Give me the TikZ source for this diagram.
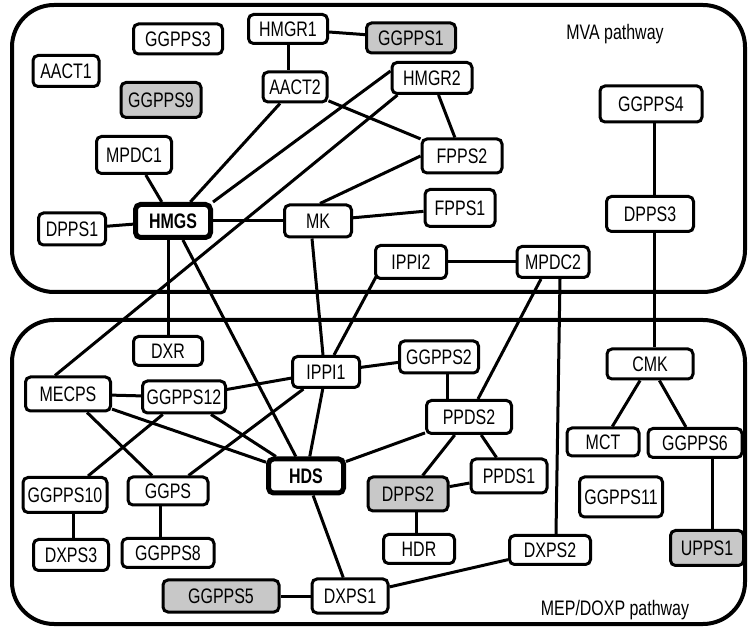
\documentclass[tikz,border=0pt]{standalone}
\usepackage{fontspec}
\setmainfont{Liberation Sans}[FakeStretch=0.76]
\definecolor{boxgray}{RGB}{200,200,200}
\begin{document}
\begin{tikzpicture}[x=1pt,y=-1pt,
  box/.style={draw, line width=3pt, rounded corners=5pt, fill=white, inner sep=0pt,
    font=\fontsize{21}{24}\selectfont},
  grayb/.style={box, fill=boxgray},
  bold/.style={box, line width=5pt, font=\fontsize{21}{24}\selectfont\bfseries},
  edge/.style={line width=3pt},
  pathbox/.style={line width=4pt, rounded corners=42pt},
  lbl/.style={font=\fontsize{21}{24}\selectfont, inner sep=0pt}]
\useasboundingbox (0,0) rectangle (748,628);
\draw[pathbox] (12,5) rectangle (745,292);
\draw[pathbox] (12,320) rectangle (745,624);
\node[lbl] (mva) at (615,34) {MVA pathway};
\node[lbl] (mep) at (615,610) {MEP/DOXP pathway};
% nodes
\node[box, minimum width=89, minimum height=30] (GGPPS3) at (178,39) {GGPPS3};
\node[box, minimum width=66, minimum height=31] (AACT1) at (66,71) {AACT1};
\node[box, minimum width=79, minimum height=29] (HMGR1) at (288,29) {HMGR1};
\node[grayb, minimum width=89, minimum height=30] (GGPPS1) at (411,38) {GGPPS1};
\node[box, minimum width=64, minimum height=30] (AACT2) at (295,87) {AACT2};
\node[box, minimum width=80, minimum height=31] (HMGR2) at (432,78) {HMGR2};
\node[grayb, minimum width=80, minimum height=35] (GGPPS9) at (161,100) {GGPPS9};
\node[box, minimum width=75, minimum height=37] (MPDC1) at (134,155) {MPDC1};
\node[box, minimum width=80, minimum height=34] (FPPS2) at (462,156) {FPPS2};
\node[box, minimum width=102, minimum height=36] (GGPPS4) at (651,104) {GGPPS4};
\node[box, minimum width=67, minimum height=32] (DPPS1) at (72,229) {DPPS1};
\node[bold, minimum width=75, minimum height=33] (HMGS) at (173,221) {HMGS};
\node[box, minimum width=67, minimum height=32] (MK) at (318,221) {MK};
\node[box, minimum width=70, minimum height=37] (FPPS1) at (460,208) {FPPS1};
\node[box, minimum width=87, minimum height=35] (DPPS3) at (650,214) {DPPS3};
\node[box, minimum width=71, minimum height=33] (IPPI2) at (411,262) {IPPI2};
\node[box, minimum width=72, minimum height=31] (MPDC2) at (553,262) {MPDC2};
\node[box, minimum width=69, minimum height=29] (DXR) at (168,351) {DXR};
\node[box, minimum width=85, minimum height=34] (MECPS) at (68,394) {MECPS};
\node[box, minimum width=83, minimum height=32] (GGPPS12) at (184,397) {GGPPS12};
\node[box, minimum width=67, minimum height=31] (IPPI1) at (326,372) {IPPI1};
\node[box, minimum width=79, minimum height=32] (GGPPS2) at (439,357) {GGPPS2};
\node[box, minimum width=86, minimum height=30] (CMK) at (650,364) {CMK};
\node[box, minimum width=85, minimum height=33] (PPDS2) at (469,417) {PPDS2};
\node[box, minimum width=72, minimum height=28] (MCT) at (603,442) {MCT};
\node[box, minimum width=94, minimum height=29] (GGPPS6) at (695,443) {GGPPS6};
\node[bold, minimum width=75, minimum height=34] (HDS) at (306,476) {HDS};
\node[grayb, minimum width=80, minimum height=34] (DPPS2) at (408,494) {DPPS2};
\node[box, minimum width=76, minimum height=34] (PPDS1) at (509,476) {PPDS1};
\node[box, minimum width=84, minimum height=35] (GGPPS10) at (65,495) {GGPPS10};
\node[box, minimum width=80, minimum height=28] (GGPS) at (168,491) {GGPS};
\node[box, minimum width=83, minimum height=40] (GGPPS11) at (621,497) {GGPPS11};
\node[box, minimum width=75, minimum height=31] (DXPS3) at (71,555) {DXPS3};
\node[box, minimum width=92, minimum height=29] (GGPPS8) at (168,553) {GGPPS8};
\node[box, minimum width=71, minimum height=29] (HDR) at (419,549) {HDR};
\node[box, minimum width=81, minimum height=29] (DXPS2) at (550,550) {DXPS2};
\node[grayb, minimum width=73, minimum height=35] (UPPS1) at (707,548) {UPPS1};
\node[grayb, minimum width=116, minimum height=32] (GGPPS5) at (221,596) {GGPPS5};
\node[box, minimum width=76, minimum height=34] (DXPS1) at (350,596) {DXPS1};
% edges
\draw[edge] (HMGR1) -- (GGPPS1);
\draw[edge] (HMGR1.south) -- ([xshift=-7pt]AACT2.north);
\draw[edge] (AACT2) -- (HMGS);
\draw[edge] (AACT2) -- (FPPS2);
\draw[edge] (HMGR2) -- (FPPS2);
\draw[edge] ([yshift=7pt]HMGR2.west) -- (HMGS.north east);
\draw[edge] ([xshift=7pt]HMGR2.south west) -- ([xshift=-13pt]MECPS.north);
\draw[edge] ([xshift=2pt]MK.north) -- (FPPS2.west);
\draw[edge] (HMGS) -- (MK);
\draw[edge] (MK) -- (FPPS1);
\draw[edge] (MPDC1) -- (HMGS);
\draw[edge] (DPPS1) -- (HMGS);
\draw[edge] ([xshift=-5pt]HMGS.south) -- (DXR.north);
\draw[edge] (HMGS) -- (HDS);
\draw[edge] ([xshift=-6pt]MK.south) -- ([xshift=-3pt]IPPI1.north);
\draw[edge] ([xshift=-34pt,yshift=5pt]IPPI2.south) -- ([xshift=8pt]IPPI1.north);
\draw[edge] (IPPI2) -- (MPDC2);
\draw[edge] ([xshift=-12pt]MPDC2.south) -- ([xshift=9pt]PPDS2.north);
\draw[edge] ([xshift=7pt]MPDC2.south) -- ([xshift=6pt]DXPS2.north);
\draw[edge] ([xshift=3pt]GGPPS4.south) -- ([xshift=4pt]DPPS3.north);
\draw[edge] ([xshift=4pt]DPPS3.south) -- ([xshift=4pt]CMK.north);
\draw[edge] (CMK) -- (MCT);
\draw[edge] (CMK) -- (GGPPS6);
\draw[edge] ([xshift=17pt]GGPPS6.south) -- ([xshift=5pt]UPPS1.north);
\draw[edge] (IPPI1) -- (GGPPS2);
\draw[edge] (IPPI1) -- (GGPPS12);
\draw[edge] (IPPI1) -- (GGPS);
\draw[edge] (IPPI1) -- (HDS);
\draw[edge] ([xshift=8pt]GGPPS2.south) -- ([xshift=-22pt]PPDS2.north);
\draw[edge] (PPDS2) -- (HDS);
\draw[edge] (PPDS2) -- (DPPS2);
\draw[edge] (PPDS2) -- (PPDS1);
\draw[edge] (PPDS1) -- (DPPS2);
\draw[edge] ([xshift=8pt]DPPS2.south) -- ([xshift=-3pt]HDR.north);
\draw[edge] (DXPS2) -- (DXPS1);
\draw[edge] (DXPS1) -- (GGPPS5);
\draw[edge] (DXPS1) -- (HDS);
\draw[edge] (MECPS) -- (GGPPS12);
\draw[edge] (MECPS) -- (HDS);
\draw[edge] (MECPS) -- (GGPS);
\draw[edge] (GGPPS12) -- (HDS);
\draw[edge] (GGPPS12) -- (GGPPS10);
\draw[edge] ([xshift=8pt]GGPPS10.south) -- ([xshift=2pt]DXPS3.north);
\draw[edge] ([xshift=-8pt]GGPS.south) -- ([xshift=-8pt]GGPPS8.north);
\end{tikzpicture}
\end{document}
